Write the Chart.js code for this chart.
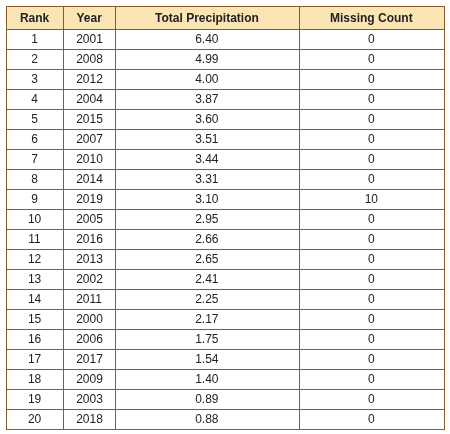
<!DOCTYPE html><html><head><meta charset="utf-8">
<script src="https://cdn.jsdelivr.net/npm/chart.js@4"></script>
<style>html,body{margin:0;padding:0;background:#fff}#w{width:450px;height:434px}</style></head><body>
<div id="w"><canvas id="c"></canvas></div>
<script>
const headers = ["Rank","Year","Total Precipitation","Missing Count"];
const ranks = [1,2,3,4,5,6,7,8,9,10,11,12,13,14,15,16,17,18,19,20];
const years = [2001,2008,2012,2004,2015,2007,2010,2014,2019,2005,2016,2013,2002,2011,2000,2006,2017,2009,2003,2018];
const totals = ["6.40","4.99","4.00","3.87","3.60","3.51","3.44","3.31","3.10","2.95","2.66","2.65","2.41","2.25","2.17","1.75","1.54","1.40","0.89","0.88"];
const missing = [0,0,0,0,0,0,0,0,10,0,0,0,0,0,0,0,0,0,0,0];
const colEdges = [0,57,109,292,437];
const headerH = 23, rowH = 19.95;
const tablePlugin = {
  id:'table',
  afterDraw(chart){
    const {ctx, scales:{x,y}} = chart;
    const X = v=>x.getPixelForValue(v), Y = v=>y.getPixelForValue(v);
    const rowTop = i => i===0 ? 0 : headerH + (i-1)*rowH;
    const n = ranks.length;
    const bottom = headerH + n*rowH;
    const right = colEdges[colEdges.length-1];
    ctx.save();
    ctx.fillStyle = '#fce5b4';
    ctx.fillRect(X(0), Y(0), X(right)-X(0), Y(headerH)-Y(0));
    ctx.strokeStyle = '#8a5a2c'; ctx.lineWidth = 1;
    ctx.beginPath();
    for (let i=0;i<=n+1;i++){ const yy=Math.round(Y(i===n+1?bottom:rowTop(i)))+0.5; ctx.moveTo(X(0),yy); ctx.lineTo(X(right)+1,yy); }
    colEdges.forEach(c=>{ const xx=Math.round(X(c))+0.5; ctx.moveTo(xx,Y(0)); ctx.lineTo(xx,Y(bottom)); });
    ctx.stroke();
    ctx.textBaseline='middle';
    ctx.fillStyle='#222';
    ctx.font='bold 12px "Liberation Sans", Arial, sans-serif';
    ctx.textAlign='center';
    headers.forEach((h,j)=>ctx.fillText(h,(X(colEdges[j])+X(colEdges[j+1]))/2,Y(headerH/2)+1));
    ctx.font='12px "Liberation Sans", Arial, sans-serif';
    for (let i=0;i<n;i++){
      const cy = Y(headerH + i*rowH + rowH/2)+1;
      ctx.textAlign='center'; ctx.fillText(String(ranks[i]),(X(colEdges[0])+X(colEdges[1]))/2,cy);
      ctx.textAlign='left'; ctx.fillText(String(years[i]),X(70),cy);
      ctx.textAlign='right'; ctx.fillText(totals[i],X(212),cy);
      ctx.textAlign='center'; ctx.fillText(String(missing[i]),(X(colEdges[3])+X(colEdges[4]))/2,cy);
    }
    ctx.restore();
  }
};
new Chart(document.getElementById('c'),{
  type:'scatter',
  data:{datasets:[{data:[]}]},
  options:{responsive:true,maintainAspectRatio:false,animation:false,
    layout:{padding:{left:6,top:6,right:6,bottom:5}},
    plugins:{legend:{display:false},tooltip:{enabled:false}},
    scales:{x:{type:'linear',min:0,max:437,display:false},
            y:{type:'linear',min:0,max:422,reverse:true,display:false}}},
  plugins:[tablePlugin]
});
</script></body></html>
